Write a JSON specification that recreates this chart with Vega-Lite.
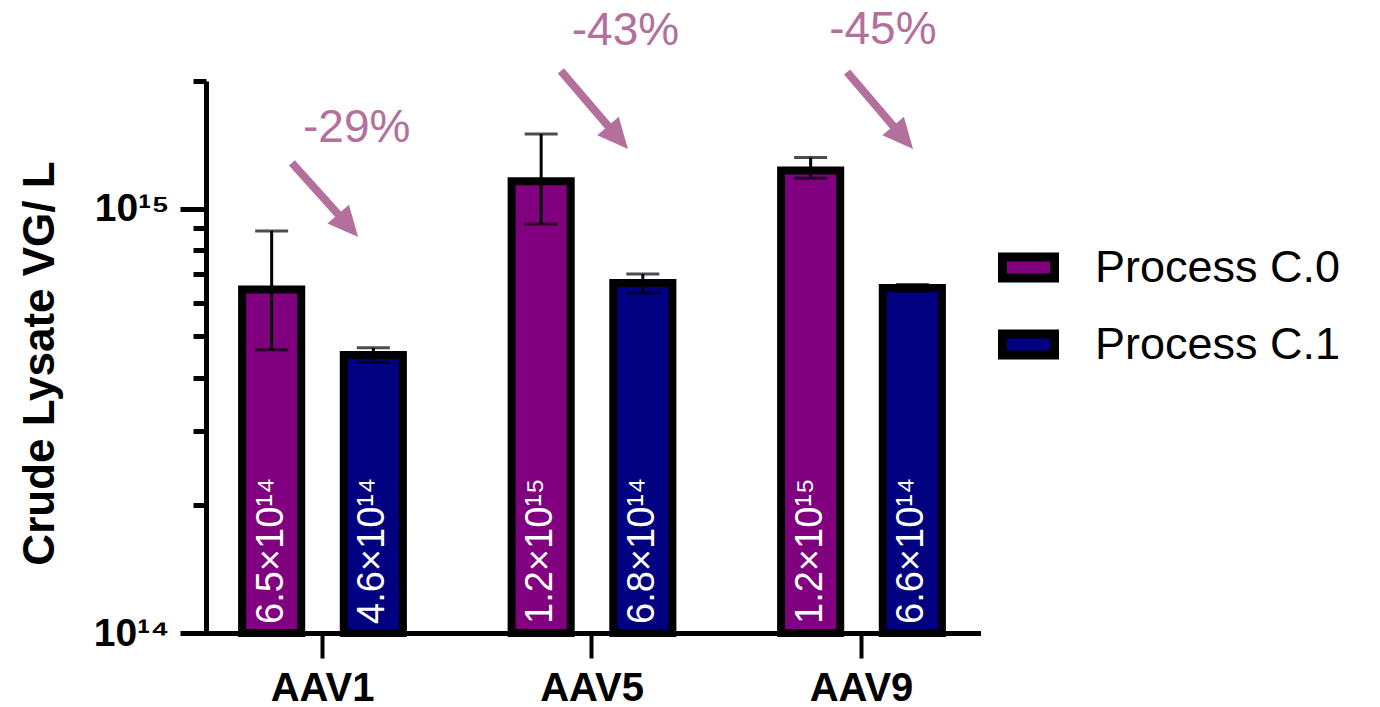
{
  "$schema": "https://vega.github.io/schema/vega-lite/v6.json",
  "width": 772,
  "height": 552,
  "autosize": {"type": "none"},
  "padding": {"left": 206, "top": 81, "right": 402, "bottom": 74},
  "background": "white",
  "config": {"view": {"stroke": null}, "font": "Liberation Sans"},
  "datasets": {
    "bars": [
      {"variant": "AAV1", "process": "Process C.0", "mean": 6.45e14, "lo": 4.65e14, "hi": 8.86e14, "label": "6.5×10¹⁴"},
      {"variant": "AAV1", "process": "Process C.1", "mean": 4.52e14, "lo": 4.34e14, "hi": 4.70e14, "label": "4.6×10¹⁴"},
      {"variant": "AAV5", "process": "Process C.0", "mean": 1.16e15, "lo": 9.2e14, "hi": 1.50e15, "label": "1.2×10¹⁵"},
      {"variant": "AAV5", "process": "Process C.1", "mean": 6.68e14, "lo": 6.34e14, "hi": 7.02e14, "label": "6.8×10¹⁴"},
      {"variant": "AAV9", "process": "Process C.0", "mean": 1.23e15, "lo": 1.18e15, "hi": 1.32e15, "label": "1.2×10¹⁵"},
      {"variant": "AAV9", "process": "Process C.1", "mean": 6.50e14, "lo": 6.39e14, "hi": 6.63e14, "label": "6.6×10¹⁴"}
    ],
    "notes": [
      {"variant": "AAV1", "label": "-29%", "from_pos": 0.887, "from_val": 1.283e15, "to_pos": 1.087, "to_val": 9.27e14, "text_pos": 1.128, "text_val": 1.436e15},
      {"variant": "AAV5", "label": "-43%", "from_pos": 1.887, "from_val": 2.112e15, "to_pos": 2.090, "to_val": 1.495e15, "text_pos": 2.127, "text_val": 2.43e15},
      {"variant": "AAV9", "label": "-45%", "from_pos": 2.951, "from_val": 2.10e15, "to_pos": 3.150, "to_val": 1.495e15, "text_pos": 3.084, "text_val": 2.45e15}
    ]
  },
  "layer": [
    {
      "data": {"name": "bars"},
      "encoding": {
        "x": {
          "field": "variant", "type": "nominal",
          "scale": {"paddingInner": 0.3, "paddingOuter": 0.0823},
          "axis": {
            "title": null, "labelAngle": 0,
            "labelFont": "Liberation Sans", "labelFontSize": 40, "labelFontWeight": "bold", "labelColor": "black",
            "labelBaseline": "alphabetic", "labelPadding": 42,
            "domainColor": "black", "domainWidth": 5, "domainCap": "square",
            "tickColor": "black", "tickWidth": 4, "tickSize": 25
          }
        },
        "xOffset": {
          "field": "process", "type": "nominal",
          "scale": {"paddingInner": 0.4187, "paddingOuter": 0.137}
        },
        "y": {
          "field": "mean", "type": "quantitative",
          "scale": {"type": "log", "domain": [1e14, 2e15], "nice": false},
          "axis": {
            "values": [1e14, 2e14, 3e14, 4e14, 5e14, 6e14, 7e14, 8e14, 9e14, 1e15, 2e15],
            "labelExpr": "datum.value == 1e14 ? '10¹⁴' : (datum.value == 1e15 ? '10¹⁵' : '')",
            "tickSize": {"condition": {"test": "datum.value == 1e14 || datum.value == 1e15", "value": 26}, "value": 13},
            "tickWidth": 5, "tickColor": "black",
            "domainColor": "black", "domainWidth": 5,
            "grid": false,
            "labelFont": "Liberation Sans", "labelFontSize": 39, "labelFontWeight": "bold", "labelColor": "black",
            "labelPadding": 11, "labelBaseline": "middle",
            "title": "Crude Lysate VG/ L",
            "titleFont": "Liberation Sans", "titleFontSize": 44, "titleFontWeight": "bold", "titleColor": "black",
            "titleAngle": 270, "titleAlign": "center", "titleBaseline": "alphabetic",
            "titleX": -153, "titleY": 282
          }
        }
      },
      "layer": [
        {
          "mark": {"type": "bar", "stroke": "black", "strokeWidth": 8, "strokeJoin": "miter", "opacity": 1},
          "encoding": {
            "y2": {"datum": 1e14},
            "fill": {
              "field": "process", "type": "nominal",
              "scale": {"domain": ["Process C.0", "Process C.1"], "range": ["#800080", "#000080"]},
              "legend": {
                "orient": "none", "legendX": 792, "legendY": 156,
                "title": null, "padding": 0,
                "symbolType": "M-1,-0.4H1V0.4H-1Z", "symbolSize": 2704,
                "symbolStrokeColor": "black", "symbolStrokeWidth": 9, "symbolOpacity": 1,
                "labelFont": "Liberation Sans", "labelFontSize": 45, "labelColor": "black",
                "labelOffset": 36, "rowPadding": 18, "labelLimit": 500
              }
            }
          }
        },
        {
          "mark": {"type": "rule", "color": "black", "strokeWidth": 3},
          "encoding": {"y": {"field": "lo", "type": "quantitative"}, "y2": {"field": "hi"}}
        },
        {
          "mark": {"type": "tick", "color": "black", "size": 33, "thickness": 3, "orient": "horizontal"},
          "encoding": {"y": {"field": "hi", "type": "quantitative"}}
        },
        {
          "mark": {"type": "tick", "color": "black", "size": 33, "thickness": 3, "orient": "horizontal"},
          "encoding": {"y": {"field": "lo", "type": "quantitative"}}
        },
        {
          "mark": {"type": "text", "angle": 270, "align": "left", "baseline": "middle", "dx": 9, "color": "white", "font": "Liberation Sans", "fontSize": 38},
          "encoding": {"y": {"datum": 1e14}, "text": {"field": "label"}}
        }
      ]
    },
    {
      "data": {"name": "notes"},
      "encoding": {
        "x": {"field": "from_pos", "type": "quantitative", "scale": {"domain": [0.5677, 3.4377], "nice": false, "zero": false}, "axis": null}
      },
      "layer": [
        {
          "mark": {"type": "rule", "color": "#b4709c", "strokeWidth": 8, "strokeCap": "butt"},
          "encoding": {
            "y": {"field": "from_val", "type": "quantitative"},
            "x2": {"field": "to_pos"},
            "y2": {"field": "to_val"}
          }
        },
        {
          "mark": {"type": "point", "shape": "M0,-1L0.75,0.6L-0.75,0.6Z", "size": 1444, "angle": 139, "filled": true, "color": "#b4709c", "opacity": 1},
          "encoding": {
            "x": {"field": "to_pos", "type": "quantitative"},
            "y": {"field": "to_val", "type": "quantitative"}
          }
        },
        {
          "mark": {"type": "text", "align": "center", "baseline": "alphabetic", "color": "#b4709c", "font": "Liberation Sans", "fontSize": 46},
          "encoding": {
            "x": {"field": "text_pos", "type": "quantitative"},
            "y": {"field": "text_val", "type": "quantitative"},
            "text": {"field": "label"}
          }
        }
      ]
    }
  ],
  "resolve": {"scale": {"x": "independent"}}
}
